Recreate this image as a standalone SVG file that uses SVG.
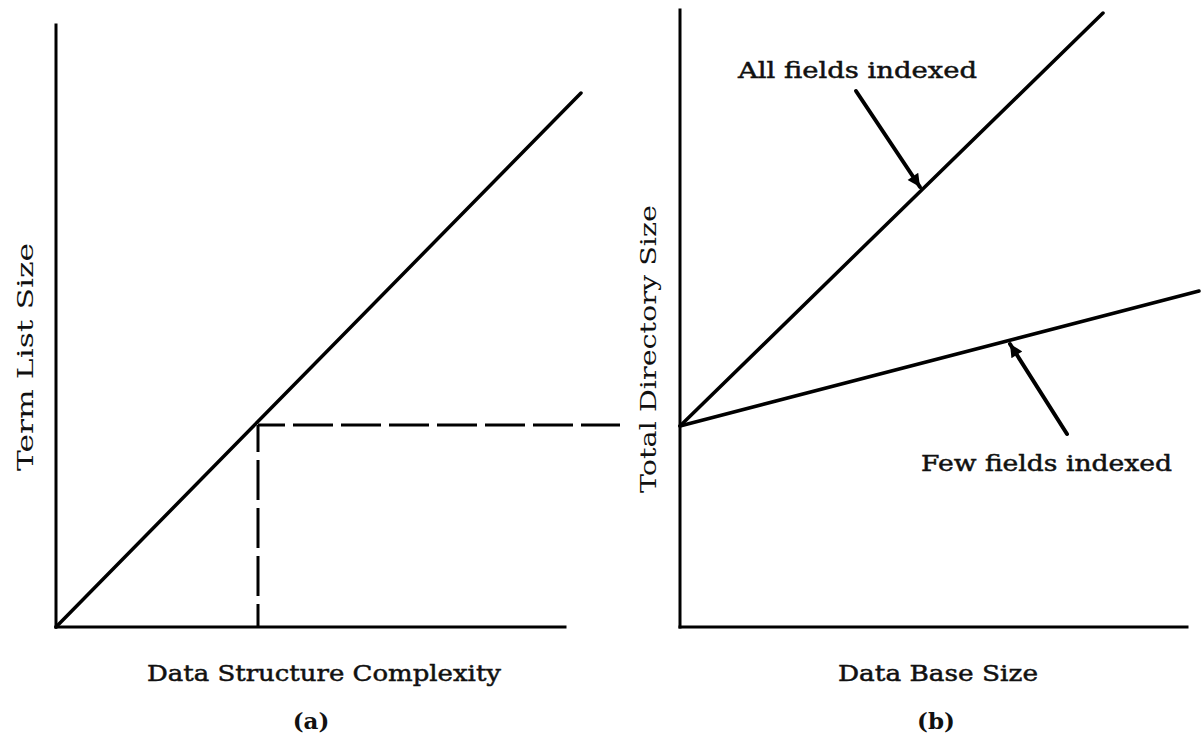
<svg xmlns="http://www.w3.org/2000/svg" width="1201" height="746" viewBox="0 0 1201 746">
  <style>
    .axis { stroke: #000; stroke-width: 3; fill: none; stroke-linecap: square; }
    .curve { stroke: #000; stroke-width: 3.5; fill: none; stroke-linecap: round; }
    .dash { stroke: #000; stroke-width: 3; fill: none; stroke-dasharray: 40 8; }
    .ptr { stroke: #000; stroke-width: 4; fill: none; stroke-linecap: round; }
    .lbl { font-family: "DejaVu Serif", "Liberation Serif", serif; font-size: 23px; fill: #111; stroke: #111; stroke-width: 0.5; }
    .vlbl { font-family: "DejaVu Serif", "Liberation Serif", serif; font-size: 23px; fill: #111; text-anchor: middle; }
    .cap { font-family: "DejaVu Serif", "Liberation Serif", serif; font-size: 23px; font-weight: bold; fill: #111; text-anchor: middle; }
  </style>
  <defs>
    <marker id="head" viewBox="0 0 10 10" refX="10" refY="5" markerWidth="4.5" markerHeight="3.2" orient="auto" markerUnits="strokeWidth">
      <path d="M0,0 L10,5 L0,10 Z" fill="#000"/>
    </marker>
  </defs>

  <!-- panel (a): term list size vs. data structure complexity -->
  <g id="panel-a">
    <line class="axis" x1="56" y1="25" x2="56" y2="627"/>
    <line class="axis" x1="56" y1="627" x2="565" y2="627"/>
    <line class="curve" x1="56" y1="627" x2="581" y2="93"/>
    <text class="vlbl" transform="translate(33,357) rotate(-90)" textLength="228" lengthAdjust="spacingAndGlyphs">Term List Size</text>
    <text class="lbl" x="147" y="681" textLength="354" lengthAdjust="spacingAndGlyphs">Data Structure Complexity</text>
    <text class="cap" x="311" y="729">(a)</text>
  </g>

  <!-- panel (b): total directory size vs. data base size -->
  <g id="panel-b">
    <line class="axis" x1="680" y1="10" x2="680" y2="627"/>
    <line class="axis" x1="680" y1="627" x2="1187" y2="627"/>
    <line class="curve" x1="680" y1="426" x2="1103" y2="13"/>
    <line class="curve" x1="680" y1="426" x2="1199" y2="291"/>
    <text class="vlbl" transform="translate(656,349) rotate(-90)" textLength="288" lengthAdjust="spacingAndGlyphs">Total Directory Size</text>
    <text class="lbl" x="838" y="681" textLength="200" lengthAdjust="spacingAndGlyphs">Data Base Size</text>
    <text class="cap" x="936" y="729">(b)</text>
  </g>

  <g id="label-all">
    <text class="lbl" x="738" y="78" textLength="239" lengthAdjust="spacingAndGlyphs">All fields indexed</text>
  </g>
  <g id="label-few">
    <text class="lbl" x="921" y="471" textLength="251" lengthAdjust="spacingAndGlyphs">Few fields indexed</text>
  </g>

  <!-- projection lines and pointers -->
  <g id="connectors">
    <line class="dash" x1="258" y1="425" x2="620" y2="425" stroke-dashoffset="13"/>
    <line class="dash" x1="258" y1="425" x2="258" y2="627" stroke-dashoffset="13"/>
    <line class="ptr" x1="856" y1="91" x2="920" y2="187" marker-end="url(#head)"/>
    <line class="ptr" x1="1067" y1="434" x2="1010" y2="344" marker-end="url(#head)"/>
  </g>
</svg>
